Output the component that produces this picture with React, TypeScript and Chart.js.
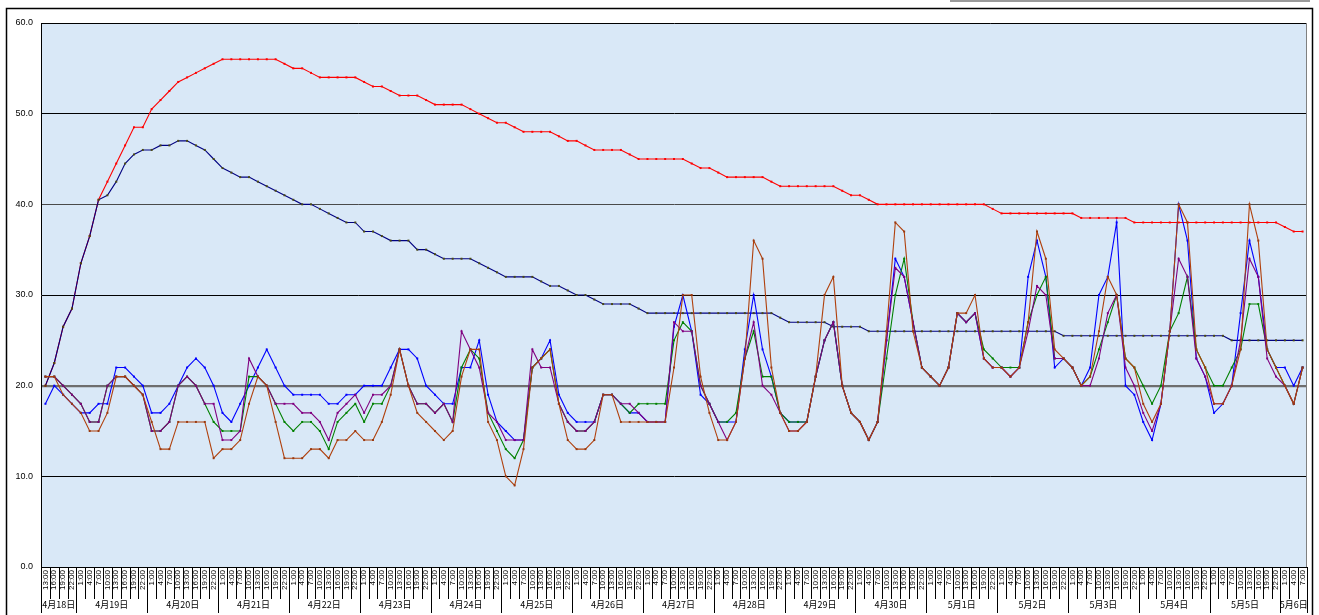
import React, { useEffect, useRef } from "react";
import { Chart, registerables } from "chart.js";

Chart.register(...registerables);

// ---- categories ----
const firstDayHours = ["13:00", "16:00", "19:00", "22:00"];
const fullDayHours = ["1:00", "4:00", "7:00", "10:00", "13:00", "16:00", "19:00", "22:00"];
const lastDayHours = ["1:00", "4:00", "7:00"];
const dayLabels = [
  "4月18日", "4月19日", "4月20日", "4月21日", "4月22日", "4月23日", "4月24日", "4月25日", "4月26日",
  "4月27日", "4月28日", "4月29日", "4月30日", "5月1日", "5月2日", "5月3日", "5月4日", "5月5日", "5月6日",
];
const dayCounts = [4, 8, 8, 8, 8, 8, 8, 8, 8, 8, 8, 8, 8, 8, 8, 8, 8, 8, 3];

const timeLabels: string[] = [];
dayCounts.forEach((n, d) => {
  const src = d === 0 ? firstDayHours : d === dayCounts.length - 1 ? lastDayHours : fullDayHours;
  for (let k = 0; k < n; k++) timeLabels.push(src[k]);
});

// ---- series ----
const redSeries = [
  20, 22.5, 26.5, 28.5,
  33.5, 36.5, 40.5, 42.5, 44.5, 46.5, 48.5, 48.5,
  50.5, 51.5, 52.5, 53.5, 54, 54.5, 55, 55.5,
  56, 56, 56, 56, 56, 56, 56, 55.5,
  55, 55, 54.5, 54, 54, 54, 54, 54,
  53.5, 53, 53, 52.5, 52, 52, 52, 51.5,
  51, 51, 51, 51, 50.5, 50, 49.5, 49,
  49, 48.5, 48, 48, 48, 48, 47.5, 47,
  47, 46.5, 46, 46, 46, 46, 45.5, 45,
  45, 45, 45, 45, 45, 44.5, 44, 44,
  43.5, 43, 43, 43, 43, 43, 42.5, 42,
  42, 42, 42, 42, 42, 42, 41.5, 41,
  41, 40.5, 40, 40, 40, 40, 40, 40,
  40, 40, 40, 40, 40, 40, 40, 39.5,
  39, 39, 39, 39, 39, 39, 39, 39,
  39, 38.5, 38.5, 38.5, 38.5, 38.5, 38.5, 38,
  38, 38, 38, 38, 38, 38, 38, 38,
  38, 38, 38, 38, 38, 38, 38, 38,
  37.5, 37, 37,
];

const navySeries = [
  20, 22.5, 26.5, 28.5,
  33.5, 36.5, 40.5, 41, 42.5, 44.5, 45.5, 46,
  46, 46.5, 46.5, 47, 47, 46.5, 46, 45,
  44, 43.5, 43, 43, 42.5, 42, 41.5, 41,
  40.5, 40, 40, 39.5, 39, 38.5, 38, 38,
  37, 37, 36.5, 36, 36, 36, 35, 35,
  34.5, 34, 34, 34, 34, 33.5, 33, 32.5,
  32, 32, 32, 32, 31.5, 31, 31, 30.5,
  30, 30, 29.5, 29, 29, 29, 29, 28.5,
  28, 28, 28, 28, 28, 28, 28, 28,
  28, 28, 28, 28, 28, 28, 28, 27.5,
  27, 27, 27, 27, 27, 26.5, 26.5, 26.5,
  26.5, 26, 26, 26, 26, 26, 26, 26,
  26, 26, 26, 26, 26, 26, 26, 26,
  26, 26, 26, 26, 26, 26, 26, 25.5,
  25.5, 25.5, 25.5, 25.5, 25.5, 25.5, 25.5, 25.5,
  25.5, 25.5, 25.5, 25.5, 25.5, 25.5, 25.5, 25.5,
  25.5, 25.5, 25, 25, 25, 25, 25, 25,
  25, 25, 25,
];

const blueSeries = [
  18, 20, 19, 18,
  17, 17, 18, 18, 22, 22, 21, 20,
  17, 17, 18, 20, 22, 23, 22, 20,
  17, 16, 18, 20, 22, 24, 22, 20,
  19, 19, 19, 19, 18, 18, 19, 19,
  20, 20, 20, 22, 24, 24, 23, 20,
  19, 18, 18, 22, 22, 25, 19, 16,
  15, 14, 14, 22, 23, 25, 19, 17,
  16, 16, 16, 19, 19, 18, 17, 17,
  16, 16, 16, 26.5, 30, 26, 19, 18,
  16, 16, 16, 24, 30, 24, 21, 17,
  16, 16, 16, 21, 25, 27, 20, 17,
  16, 14, 16, 25, 34, 32, 27, 22,
  21, 20, 22, 28, 27, 28, 23, 22,
  22, 21, 22, 32, 36, 32, 22, 23,
  22, 20, 22, 30, 32, 38, 20, 19,
  16, 14, 18, 26, 40, 36, 23, 21,
  17, 18, 20, 28, 36, 32, 24, 22,
  22, 20, 22,
];

const purpleSeries = [
  21, 21, 20, 19,
  18, 16, 16, 20, 21, 21, 20, 19,
  15, 15, 16, 20, 21, 20, 18, 18,
  14, 14, 15, 23, 21, 20, 18, 18,
  18, 17, 17, 16, 14, 17, 18, 19,
  17, 19, 19, 20, 24, 20, 18, 18,
  17, 18, 16, 26, 24, 22, 17, 16,
  14, 14, 14, 24, 22, 22, 18, 16,
  15, 15, 16, 19, 19, 18, 18, 17,
  16, 16, 16, 27, 26, 26, 20, 18,
  16, 14, 16, 23, 27, 20, 19, 17,
  15, 15, 16, 21, 25, 27, 20, 17,
  16, 14, 16, 25, 33, 32, 27, 22,
  21, 20, 22, 28, 27, 28, 23, 22,
  22, 21, 22, 26, 31, 30, 23, 23,
  22, 20, 20, 23, 28, 30, 22, 20,
  17, 15, 18, 26, 34, 32, 23, 21,
  18, 18, 20, 25, 34, 32, 23, 21,
  20, 18, 22,
];

const greenSeries = [
  21, 21, 20, 19,
  18, 16, 16, 20, 21, 21, 20, 19,
  15, 15, 16, 20, 21, 20, 18, 16,
  15, 15, 15, 21, 21, 20, 18, 16,
  15, 16, 16, 15, 13, 16, 17, 18,
  16, 18, 18, 20, 24, 20, 18, 18,
  17, 18, 16, 22, 24, 23, 17, 15,
  13, 12, 14, 22, 23, 24, 18, 16,
  15, 15, 16, 19, 19, 18, 17, 18,
  18, 18, 18, 25, 27, 26, 20, 18,
  16, 16, 17, 23, 26, 21, 21, 17,
  16, 16, 16, 21, 25, 27, 20, 17,
  16, 14, 16, 23, 30, 34, 27, 22,
  21, 20, 22, 28, 27, 28, 24, 23,
  22, 22, 22, 27, 30, 32, 23, 23,
  22, 20, 21, 24, 27, 30, 23, 22,
  20, 18, 20, 26, 28, 32, 24, 22,
  20, 20, 22, 24, 29, 29, 24, 22,
  20, 18, 22,
];

const brownSeries = [
  21, 21, 19, 18,
  17, 15, 15, 17, 21, 21, 20, 19,
  16, 13, 13, 16, 16, 16, 16, 12,
  13, 13, 14, 18, 21, 20, 16, 12,
  12, 12, 13, 13, 12, 14, 14, 15,
  14, 14, 16, 19, 24, 20, 17, 16,
  15, 14, 15, 21, 24, 24, 16, 14,
  10, 9, 13, 22, 23, 24, 18, 14,
  13, 13, 14, 19, 19, 16, 16, 16,
  16, 16, 16, 22, 30, 30, 21, 17,
  14, 14, 16, 23, 36, 34, 22, 17,
  15, 15, 16, 21, 30, 32, 20, 17,
  16, 14, 16, 26, 38, 37, 26, 22,
  21, 20, 22, 28, 28, 30, 23, 22,
  22, 21, 22, 27, 37, 34, 24, 23,
  22, 20, 21, 26, 32, 30, 23, 22,
  18, 16, 18, 26, 40, 38, 24, 22,
  18, 18, 20, 24, 40, 36, 24, 22,
  20, 18, 22,
];

const yTicks = [0, 10, 20, 30, 40, 50, 60];

const mk = (data: number[], color: string, pointColor: string) => ({
  data,
  borderColor: color,
  backgroundColor: pointColor,
  pointBorderColor: pointColor,
  pointBackgroundColor: pointColor,
  borderWidth: 1.1,
  pointRadius: 1.4,
  pointStyle: "rect" as const,
  pointBorderWidth: 0,
  tension: 0,
  fill: false,
});

const decor = {
  id: "decor",
  beforeDraw(chart: any) {
    const { ctx, chartArea: a } = chart;
    ctx.save();
    ctx.fillStyle = "#ffffff";
    ctx.fillRect(0, 0, chart.width, chart.height);
    ctx.strokeStyle = "#000";
    ctx.lineWidth = 1.5;
    ctx.beginPath();
    ctx.moveTo(6.5, 615);
    ctx.lineTo(6.5, 8.5);
    ctx.lineTo(1312.5, 8.5);
    ctx.lineTo(1312.5, 615);
    ctx.stroke();
    ctx.strokeStyle = "#9a9a9a";
    ctx.lineWidth = 2;
    ctx.beginPath();
    ctx.moveTo(950, 1);
    ctx.lineTo(1310, 1);
    ctx.stroke();
    ctx.fillStyle = "#d9e8f7";
    ctx.fillRect(a.left, a.top, a.right - a.left, a.bottom - a.top);
    ctx.restore();
  },
  afterDraw(chart: any) {
    const { ctx, chartArea: a } = chart;
    const xs = chart.scales.x;
    const w = xs.getPixelForValue(1) - xs.getPixelForValue(0);
    ctx.save();
    // plot border
    ctx.strokeStyle = "#808080";
    ctx.lineWidth = 1;
    ctx.beginPath();
    ctx.moveTo(Math.round(a.right) - 0.5, a.top);
    ctx.lineTo(Math.round(a.right) - 0.5, a.bottom);
    ctx.stroke();
    // minor tick marks
    ctx.strokeStyle = "#000";
    ctx.lineWidth = 1;
    const bottom = a.bottom;
    const starts: number[] = [];
    let acc = 0;
    dayCounts.forEach((n) => {
      starts.push(acc);
      acc += n;
    });
    for (let i = 0; i <= timeLabels.length; i++) {
      const x = Math.round(xs.getPixelForValue(i) - w / 2) + 0.5;
      const isDay = starts.includes(i) || i === timeLabels.length;
      ctx.beginPath();
      ctx.moveTo(x, bottom);
      ctx.lineTo(x, isDay ? 613 : 599);
      ctx.stroke();
    }
    // date labels
    ctx.fillStyle = "#000";
    ctx.font = '9px "Noto Sans CJK JP"';
    ctx.textAlign = "center";
    ctx.textBaseline = "middle";
    dayLabels.forEach((lab, d) => {
      const s = starts[d];
      const e = s + dayCounts[d];
      const x0 = xs.getPixelForValue(s) - w / 2;
      const x1 = xs.getPixelForValue(e - 1) + w / 2;
      ctx.fillText(lab, (x0 + x1) / 2, 605);
    });
    ctx.restore();
  },
};

export default function App() {
  const ref = useRef<HTMLCanvasElement | null>(null);
  useEffect(() => {
    if (!ref.current) return;
    const chart = new Chart(ref.current, {
      type: "line",
      data: {
        labels: timeLabels,
        datasets: [
          mk(brownSeries, "#b0400c", "#9a3a10"),
          mk(purpleSeries, "#800080", "#800080"),
          mk(greenSeries, "#008000", "#008000"),
          mk(blueSeries, "#0000ff", "#0000ff"),
          mk(navySeries, "#000080", "#4a4a10"),
          mk(redSeries, "#ff0000", "#ff0000"),
        ] as any,
      },
      options: {
        animation: false,
        responsive: false,
        maintainAspectRatio: false,
        devicePixelRatio: 1,
        layout: { padding: { top: 23, right: 12, left: 0, bottom: 0 } },
        plugins: { legend: { display: false }, tooltip: { enabled: false }, title: { display: false } },
        scales: {
          x: {
            type: "category",
            offset: true,
            grid: { display: false, drawTicks: false },
            border: { display: true, color: "#000", width: 1 },
            ticks: {
              autoSkip: false,
              minRotation: 90,
              maxRotation: 90,
              padding: 3,
              color: "#000",
              font: { size: 8, family: "Liberation Sans" },
            },
            afterFit: (s: any) => {
              s.height = 48;
            },
          },
          y: {
            min: 0,
            max: 60,
            afterBuildTicks: (s: any) => {
              s.ticks = yTicks.map((v) => ({ value: v }));
            },
            ticks: {
              padding: 8,
              color: "#000",
              font: { size: 9, family: "Liberation Sans" },
              callback: (v: any) => Number(v).toFixed(1),
            },
            grid: {
              drawTicks: false,
              color: (c: any) => (c.tick && c.tick.value === 20 ? "#6e6e6e" : c.tick && c.tick.value === 40 ? "#4a4a4a" : "#000"),
              lineWidth: (c: any) => (c.tick && c.tick.value === 20 ? 2.2 : 1),
            },
            border: { display: true, color: "#000", width: 1 },
            afterFit: (s: any) => {
              s.width = 41;
            },
          },
        },
      },
      plugins: [decor],
    });
    return () => chart.destroy();
  }, []);
  return (
    <div style={{ position: "absolute", left: 0, top: 0, width: 1319, height: 615, background: "#fff" }}>
      <canvas ref={ref} width={1319} height={615} style={{ display: "block", width: 1319, height: 615 }} />
    </div>
  );
}
